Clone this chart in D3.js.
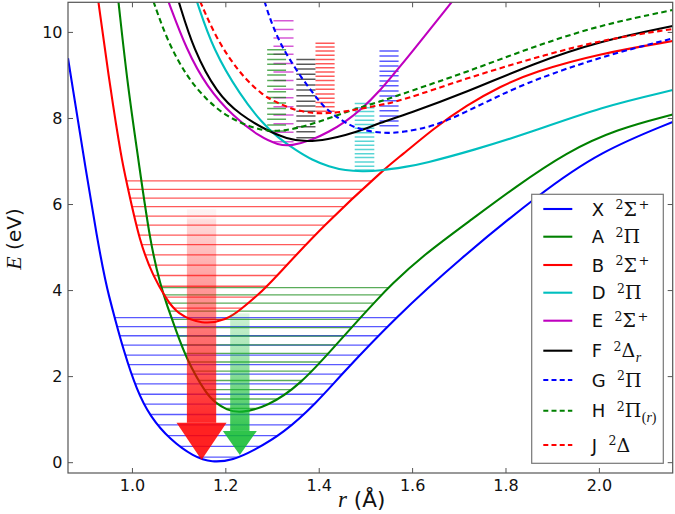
<!DOCTYPE html>
<html><head><meta charset="utf-8">
<script src="https://cdn.jsdelivr.net/npm/d3@7"></script>
<style>body{margin:0;background:#fff}svg{display:block}</style>
</head><body>
<svg id="chart" width="675" height="514"></svg>
<script>
// ---------------- DATA ----------------
// potential curves: [r (Å), E (eV)]
const curveX = [[0.862,9.40],[0.931,4.70],[0.952,3.78],[0.962,3.37],[0.981,2.61],[1.009,1.69],[1.038,1.07],[1.081,0.53],[1.131,0.14],[1.170,0.00],[1.216,0.06],[1.259,0.28],[1.323,0.68],[1.395,1.40],[1.445,2.02],[1.563,3.37],[1.698,4.71],[1.873,6.26],[2.001,7.23],[2.157,7.92]];
const curveA = [[0.970,10.72],[0.990,8.74],[1.013,7.03],[1.038,5.10],[1.061,4.09],[1.074,3.66],[1.091,3.14],[1.116,2.39],[1.159,1.58],[1.177,1.40],[1.202,1.22],[1.231,1.15],[1.288,1.30],[1.359,1.80],[1.441,2.80],[1.484,3.32],[1.525,3.80],[1.552,4.11],[1.620,4.80],[1.730,5.68],[1.819,6.40],[1.930,7.22],[2.037,7.75],[2.157,8.09]];
const curveB = [[0.927,10.72],[0.952,8.74],[0.977,7.03],[0.987,6.55],[1.016,5.10],[1.045,4.32],[1.074,3.78],[1.095,3.47],[1.149,3.20],[1.202,3.32],[1.231,3.55],[1.273,3.94],[1.295,4.17],[1.409,5.52],[1.549,6.92],[1.573,7.11],[1.645,7.77],[1.716,8.31],[1.787,8.74],[1.859,9.08],[2.001,9.51],[2.157,9.80]];
const curveD = [[1.138,10.72],[1.173,9.59],[1.231,8.54],[1.278,7.89],[1.313,7.54],[1.349,7.27],[1.385,7.03],[1.421,6.88],[1.456,6.79],[1.492,6.77],[1.528,6.78],[1.588,6.88],[1.623,6.95],[1.730,7.26],[1.859,7.70],[2.001,8.26],[2.157,8.66]];
const curveE = [[1.077,10.72],[1.116,9.59],[1.159,8.74],[1.216,8.04],[1.273,7.57],[1.313,7.38],[1.340,7.36],[1.385,7.50],[1.421,7.69],[1.456,7.92],[1.492,8.23],[1.528,8.62],[1.563,9.08],[1.588,9.40],[1.687,10.75]];
const curveF = [[1.099,10.72],[1.131,9.59],[1.181,8.58],[1.231,8.08],[1.288,7.72],[1.330,7.53],[1.373,7.45],[1.421,7.52],[1.456,7.61],[1.492,7.73],[1.528,7.89],[1.588,8.10],[1.716,8.61],[1.859,9.28],[2.001,9.80],[2.157,10.15]];
const curveG = [[1.283,10.72],[1.292,10.40],[1.303,10.09],[1.317,9.74],[1.335,9.40],[1.363,8.93],[1.385,8.62],[1.406,8.31],[1.431,8.08],[1.463,7.85],[1.492,7.73],[1.540,7.65],[1.578,7.68],[1.645,7.81],[1.716,8.16],[1.787,8.54],[1.859,8.89],[2.001,9.43],[2.157,9.86]];
const curveH = [[1.045,10.72],[1.074,9.82],[1.116,8.97],[1.159,8.43],[1.202,8.04],[1.259,7.77],[1.300,7.69],[1.349,7.75],[1.421,8.00],[1.478,8.23],[1.528,8.38],[1.588,8.61],[1.716,9.08],[1.859,9.67],[2.001,10.17],[2.157,10.52]];
const curveJ = [[1.145,10.72],[1.181,9.82],[1.231,9.03],[1.278,8.54],[1.313,8.35],[1.349,8.19],[1.385,8.12],[1.421,8.12],[1.456,8.16],[1.492,8.23],[1.528,8.31],[1.573,8.40],[1.716,8.94],[1.859,9.40],[2.001,9.82],[2.157,10.08]];

// vibrational levels spanning the X, A, B wells (eV)
const levelsX = [0.13,0.38,0.63,0.88,1.12,1.36,1.59,1.83,2.06,2.28,2.50,2.73,2.95,3.16,3.37];
const levelsA = [1.26,1.48,1.70,1.91,2.13,2.34,2.54,2.74,2.94,3.14,3.33,3.52,3.71,3.90,4.07];
const levelsB = [3.33,3.59,3.85,4.10,4.35,4.59,4.83,5.07,5.29,5.52,5.73,5.95,6.15,6.35,6.55];
// short level stacks of the upper states: r range (Å) and energies (eV)
const stackD = {r:[1.476,1.518], E:[6.80,6.89,6.99,7.09,7.18,7.28,7.38,7.47,7.57,7.67,7.77,7.86,7.96,8.06,8.16,8.25,8.35]};
const stackE = {r:[1.302,1.345], E:[7.46,7.68,7.88,8.08,8.27,8.48,8.68,8.88,9.08,9.28,9.49,9.68,9.87,10.07,10.27]};
const stackF = {r:[1.351,1.392], E:[7.55,7.69,7.81,7.94,8.06,8.17,8.29,8.40,8.53,8.66,8.78,8.91,9.03,9.15,9.26,9.37]};
const stackG = {r:[1.529,1.570], E:[7.83,7.94,8.06,8.18,8.29,8.41,8.52,8.64,8.76,8.87,8.99,9.10,9.22,9.33,9.45,9.57]};
const stackH = {r:[1.2885,1.329], E:[7.71,7.85,7.98,8.10,8.23,8.36,8.49,8.62,8.75,8.88,9.01,9.12,9.26,9.37,9.49,9.60]};
const stackJ = {r:[1.392,1.433], E:[8.17,8.27,8.37,8.47,8.57,8.68,8.78,8.88,8.98,9.08,9.18,9.27,9.37,9.47,9.57,9.66,9.75]};

// transitions (arrows): r position, top energy, tip energy
const arrowBX = {r:1.148, top:5.89, tip:0.06};
const arrowAX = {r:1.230, top:3.47, tip:0.18};

const stateLetters = ['X','A','B','D','E','F','G','H','J'];
const stateGreek   = ['Σ','Π','Σ','Π','Σ','Δ','Π','Π','Δ'];
const stateSup     = ['+','','+','','+','','','',''];
const stateSub     = ['','','','','','r','','(r)',''];
const xTicks = [1.0,1.2,1.4,1.6,1.8,2.0];
const yTicks = [0,2,4,6,8,10];

// ---------------- STYLE / LAYOUT ----------------
const colors = {X:'#0000ff',A:'#008000',B:'#ff0000',D:'#00bfbf',E:'#bf00bf',F:'#000000',G:'#0000ff',H:'#008000',J:'#ff0000'};
const dashed = {G:true,H:true,J:true};
const curves = {X:curveX,A:curveA,B:curveB,D:curveD,E:curveE,F:curveF,G:curveG,H:curveH,J:curveJ};
const stacks = {D:stackD,E:stackE,F:stackF,G:stackG,H:stackH,J:stackJ};

const svg = d3.select('#chart');
const L=68, R=672.7, T=2.3, B=473;
const x = d3.scaleLinear().domain([0.862,2.157]).range([L,R]);
const y = d3.scaleLinear().domain([-0.24,10.70]).range([B,T]);

const defs = svg.append('defs');
defs.append('clipPath').attr('id','clip').append('rect')
  .attr('x',L).attr('y',T).attr('width',R-L).attr('height',B-T);

const plot = svg.append('g').attr('clip-path','url(#clip)');
const line = d3.line().x(d=>x(d[0])).y(d=>y(d[1])).curve(d3.curveBasis);

// hidden paths to locate the well walls for the long level lines
function crossings(data, E){
  const p = svg.append('path').attr('d', line(data)).attr('fill','none').attr('stroke','none');
  const node = p.node(), len = node.getTotalLength();
  const py = y(E); const xs=[];
  let prev = node.getPointAtLength(0);
  for(let s=0.5;s<=len;s+=0.5){
    const c = node.getPointAtLength(s);
    if((prev.y-py)*(c.y-py)<=0 && prev.y!==c.y){
      xs.push(prev.x + (py-prev.y)*(c.x-prev.x)/(c.y-prev.y));
    }
    prev=c;
  }
  p.remove();
  return [d3.min(xs), d3.max(xs)];
}

const lvG = plot.append('g');
function wellLevels(levels, data, color){
  levels.forEach(E=>{
    const [x1,x2] = crossings(data,E);
    lvG.append('line').attr('x1',x1).attr('x2',x2).attr('y1',y(E)).attr('y2',y(E))
      .attr('stroke',color).attr('stroke-width',1.3).attr('stroke-opacity',0.65);
  });
}
wellLevels(levelsX, curveX, colors.X);
wellLevels(levelsA, curveA, colors.A);
wellLevels(levelsB, curveB, colors.B);
['D','E','F','G','H','J'].forEach(k=>{
  const s = stacks[k];
  s.E.forEach(E=>{
    lvG.append('line').attr('x1',x(s.r[0])).attr('x2',x(s.r[1])).attr('y1',y(E)).attr('y2',y(E))
      .attr('stroke',colors[k]).attr('stroke-width',1.5).attr('stroke-opacity',0.65);
  });
});

// curves
stateLetters.forEach(k=>{
  plot.append('path').attr('d',line(curves[k])).attr('fill','none')
    .attr('stroke',colors[k]).attr('stroke-width',2.1)
    .attr('stroke-dasharray', dashed[k]?'5.5,3.5':null);
});

// arrows with fading shafts
function arrow(a, col, shaftW, headW, headL, id, op0){
  const cx = x(a.r), yt = y(a.top), ytip = y(a.tip), yb = ytip-headL;
  const gr = defs.append('linearGradient').attr('id',id).attr('gradientUnits','userSpaceOnUse')
    .attr('x1',0).attr('x2',0).attr('y1',yt).attr('y2',yb);
  [[0,op0],[0.04,op0],[0.05,op0+0.08],[0.3,0.35],[0.65,0.6],[1,0.85]].forEach(s=>
    gr.append('stop').attr('offset',s[0]).attr('stop-color',col).attr('stop-opacity',s[1]));
  plot.append('rect').attr('x',cx-shaftW/2).attr('width',shaftW).attr('y',yt).attr('height',yb-yt)
    .attr('fill',`url(#${id})`);
  plot.append('path').attr('d',`M${cx-headW/2},${yb}L${cx+headW/2},${yb}L${cx},${ytip}Z`)
    .attr('fill',col).attr('fill-opacity',0.87);
}
arrow(arrowBX,'#ff0000',29.3,50,37.3,'gR',0.05);
arrow(arrowAX,'#10bb30',19.3,34,24,'gG',0.15);

// axes frame & ticks
const ax = svg.append('g').attr('font-family','DejaVu Sans').attr('font-size',16);
const tk = '#555';
xTicks.forEach(v=>{
  const px=x(v);
  ax.append('line').attr('x1',px).attr('x2',px).attr('y1',B).attr('y2',B-5).attr('stroke',tk);
  ax.append('line').attr('x1',px).attr('x2',px).attr('y1',T).attr('y2',T+5).attr('stroke',tk);
  ax.append('text').attr('x',px).attr('y',491).attr('text-anchor','middle').attr('fill','#111').text(d3.format('.1f')(v));
});
yTicks.forEach(v=>{
  const py=y(v);
  ax.append('line').attr('x1',L).attr('x2',L+5).attr('y1',py).attr('y2',py).attr('stroke',tk);
  ax.append('line').attr('x1',R).attr('x2',R-5).attr('y1',py).attr('y2',py).attr('stroke',tk);
  ax.append('text').attr('x',62.5).attr('y',py).attr('dy','0.36em').attr('text-anchor','end').attr('fill','#111').text(v);
});
svg.append('rect').attr('x',L).attr('y',T).attr('width',R-L).attr('height',B-T)
  .attr('fill','none').attr('stroke','#555').attr('stroke-width',1.2);

// axis labels
const xl = svg.append('text').attr('x',338).attr('y',507).attr('font-size',21.5).attr('fill','#111');
xl.append('tspan').attr('font-family','Liberation Serif').attr('font-style','italic').attr('font-size',23).text('r');
xl.append('tspan').attr('font-family','DejaVu Sans').text(' (Å)');
const yl = svg.append('text').attr('transform','translate(21,239) rotate(-90)').attr('text-anchor','middle').attr('font-size',20).attr('fill','#111');
yl.append('tspan').attr('font-family','Liberation Serif').attr('font-style','italic').attr('font-size',22).text('E');
yl.append('tspan').attr('font-family','DejaVu Sans').text(' (eV)');

// legend
const legendRowY = [209,236.7,265,292.7,320.7,350.7,380,410.7,445];
const lg = svg.append('g');
lg.append('rect').attr('x',531.7).attr('y',194.3).attr('width',131.6).attr('height',269)
  .attr('fill','#fff').attr('stroke','#777').attr('stroke-width',1.2);
stateLetters.forEach((k,i)=>{
  const yy = legendRowY[i];
  lg.append('line').attr('x1',543.3).attr('x2',572.3).attr('y1',yy).attr('y2',yy)
    .attr('stroke',colors[k]).attr('stroke-width',2.1).attr('stroke-dasharray',dashed[k]?'5,3.2':null);
  const bl = yy+6.5;
  const t = lg.append('text').attr('x',591.7).attr('y',bl).attr('font-family','DejaVu Sans').attr('font-size',18).attr('fill','#111').text(k);
  const mx = 591.7 + t.node().getComputedTextLength() + 11.4;
  lg.append('text').attr('x',mx).attr('y',bl-6.5).attr('font-family','DejaVu Serif').attr('font-size',12.5).attr('fill','#111').text('2');
  const gx = mx+8;
  const g = lg.append('text').attr('x',gx).attr('y',bl).attr('font-family','DejaVu Serif').attr('font-size',19).attr('fill','#111').text(stateGreek[i]);
  const ge = gx + g.node().getComputedTextLength();
  if(stateSup[i]) lg.append('text').attr('x',ge+1.5).attr('y',bl-6.5).attr('font-family','DejaVu Serif').attr('font-size',13).attr('fill','#111').text(stateSup[i]);
  if(stateSub[i]){
    const st = lg.append('text').attr('x',ge+0.5).attr('y',bl+4.5).attr('font-family','Liberation Serif').attr('font-size',14).attr('fill','#111');
    const s = stateSub[i];
    if(s==='r') st.append('tspan').attr('font-style','italic').text('r');
    else { st.append('tspan').text('('); st.append('tspan').attr('font-style','italic').text('r'); st.append('tspan').text(')'); }
  }
});
</script>
</body></html>
